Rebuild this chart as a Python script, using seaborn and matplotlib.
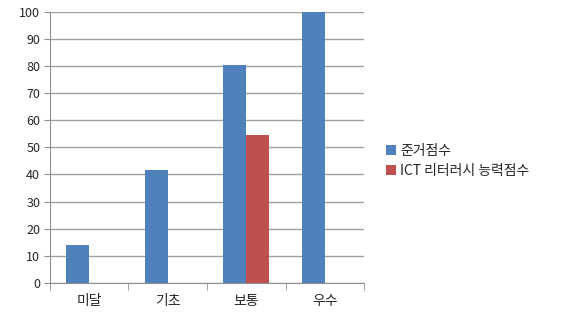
import numpy as np
import pandas as pd
import seaborn as sns
import matplotlib.pyplot as plt
from matplotlib.ticker import FixedLocator

categories = ['미달', '기초', '보통', '우수']
series_names = ['준거점수', 'ICT 리터러시 능력점수']
base_scores = [14, 41.5, 80.5, 100]
ict_scores = [np.nan, np.nan, 54.5, np.nan]
colors = ['#4F81BD', '#C0504D']

df = pd.DataFrame({
    'category': categories * 2,
    'series': [series_names[0]] * 4 + [series_names[1]] * 4,
    'value': base_scores + ict_scores,
})

sns.set_style('white')
plt.rcParams['font.family'] = ['Noto Sans CJK KR', 'DejaVu Sans']

fig = plt.figure(figsize=(5.61, 3.2), dpi=100)
ax = fig.add_axes([0.089, 0.116, 0.56, 0.847])

sns.barplot(data=df, x='category', y='value', hue='series', order=categories,
            hue_order=series_names, palette=colors, width=0.59,
            saturation=1, linewidth=0, ax=ax)

ax.set_ylim(0, 100)
ax.set_xlim(-0.5, 3.5)
ax.set_yticks(range(0, 101, 10))
ax.yaxis.grid(True, color='#A0A0A0', linewidth=1)
ax.set_axisbelow(True)
ax.set_xlabel('')
ax.set_ylabel('')

for side in ['top', 'right']:
    ax.spines[side].set_visible(False)
for side in ['left', 'bottom']:
    ax.spines[side].set_color('#909090')

ax.tick_params(axis='y', labelsize=9, length=4, color='#909090', left=True, pad=3)
ax.tick_params(axis='x', which='major', labelsize=10, length=0, pad=8)
ax.xaxis.set_minor_locator(FixedLocator([-0.5, 0.5, 1.5, 2.5, 3.5]))
ax.tick_params(axis='x', which='minor', length=5, color='#909090', bottom=True)

leg = ax.legend(loc='center left', bbox_to_anchor=(1.03, 0.45), frameon=False,
                fontsize=10, handlelength=0.7, handleheight=0.7,
                handletextpad=0.3, labelspacing=0.45)

fig.savefig('out.png', dpi=100)
